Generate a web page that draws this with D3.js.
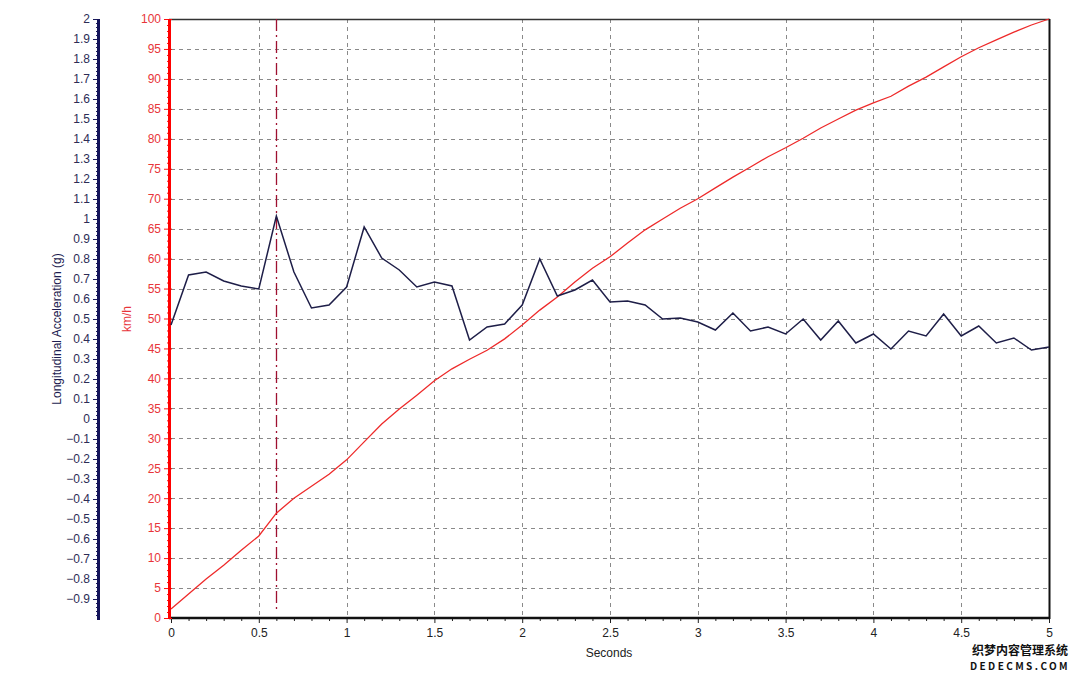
<!DOCTYPE html>
<html><head><meta charset="utf-8">
<script src="https://cdn.jsdelivr.net/npm/d3@7"></script>
<style>body{margin:0;background:#fff}svg{display:block}</style>
</head><body><svg id="c" width="1080" height="676"></svg>
<script>
const times = d3.range(0, 51).map(i => +(i / 10).toFixed(1));
const accelG = [0.47,0.72,0.735,0.69,0.665,0.65,1.015,0.735,0.555,0.57,
  0.66,0.96,0.805,0.745,0.66,0.685,0.665,0.395,0.46,0.475,
  0.57,0.80,0.615,0.645,0.695,0.585,0.59,0.57,0.50,0.505,
  0.485,0.445,0.53,0.44,0.46,0.425,0.50,0.395,0.49,0.38,
  0.425,0.35,0.44,0.415,0.525,0.415,0.465,0.38,0.405,0.345,0.36];
const speedKmh = [1.5,4.0,6.5,8.8,11.3,13.7,17.5,20.0,22.0,24.0,
  26.4,29.4,32.4,34.9,37.2,39.6,41.6,43.2,44.7,46.6,
  48.9,51.4,53.6,56.1,58.4,60.3,62.6,64.8,66.6,68.4,
  70.0,71.8,73.6,75.3,77.0,78.5,80.1,81.8,83.3,84.8,
  86.0,87.1,88.8,90.3,92.0,93.7,95.2,96.5,97.8,99.0,100];
const xTicks = [0,0.5,1,1.5,2,2.5,3,3.5,4,4.5,5];
const accelTicks = d3.range(-9, 21).map(i => +(i / 10).toFixed(1));
const speedTicks = d3.range(0, 101, 5);
const cursorTime = 0.6;

const svg = d3.select('#c');
const font = 'Liberation Sans, Arial, sans-serif';
const x = d3.scaleLinear().domain([0, 5]).range([171, 1049]);
const yA = d3.scaleLinear().domain([-1, 2]).range([619, 19]);
const yS = d3.scaleLinear().domain([0, 100]).range([618, 19]);

// grid
const grid = svg.append('g').attr('stroke', '#8a8a8a').attr('stroke-width', 1).attr('stroke-dasharray', '4,4');
speedTicks.filter(v => v > 0 && v < 100).forEach(v => {
  grid.append('line').attr('x1', 171).attr('x2', 1049).attr('y1', Math.round(yS(v)) + 0.5).attr('y2', Math.round(yS(v)) + 0.5);
});
xTicks.filter(v => v > 0 && v < 5).forEach(v => {
  grid.append('line').attr('y1', 19).attr('y2', 618).attr('x1', Math.round(x(v)) + 0.5).attr('x2', Math.round(x(v)) + 0.5);
});

// frame
svg.append('line').attr('x1', 169).attr('x2', 1050).attr('y1', 19.5).attr('y2', 19.5).attr('stroke', '#333').attr('stroke-width', 1.5);
svg.append('line').attr('x1', 1049.5).attr('x2', 1049.5).attr('y1', 19).attr('y2', 619).attr('stroke', '#111').attr('stroke-width', 2);

// cursor
svg.append('line').attr('x1', Math.round(x(cursorTime)) + 0.5).attr('x2', Math.round(x(cursorTime)) + 0.5)
  .attr('y1', 19).attr('y2', 613).attr('stroke', '#9e1030').attr('stroke-width', 1.3)
  .attr('stroke-dasharray', '12,4,2,4');

// bottom axis
const xAx = svg.append('g').attr('transform', 'translate(0,618)')
  .call(d3.axisBottom(x).tickValues(xTicks).tickSize(5).tickFormat(d3.format('')));
xAx.select('.domain').remove();
xAx.selectAll('line').attr('stroke', '#222');
xAx.selectAll('text').attr('font-family', font).attr('font-size', 12).attr('fill', '#222').attr('dy', '0.9em');
const xMinor = svg.append('g').attr('transform', 'translate(0,618)')
  .call(d3.axisBottom(x).tickValues(d3.range(1, 50).map(i => i / 10).filter(v => Math.abs(v * 2 - Math.round(v * 2)) > 0.01)).tickSize(3).tickFormat(''));
xMinor.select('.domain').remove();
xMinor.selectAll('line').attr('stroke', '#222');
svg.append('line').attr('x1', 169).attr('x2', 1050).attr('y1', 618).attr('y2', 618).attr('stroke', '#111').attr('stroke-width', 2.5);
svg.append('text').attr('x', 609).attr('y', 657).attr('text-anchor', 'middle').attr('font-family', font).attr('font-size', 12).attr('fill', '#222').text('Seconds');

// speed axis (red)
const sAx = svg.append('g').attr('transform', 'translate(169,0)')
  .call(d3.axisLeft(yS).tickValues(speedTicks).tickSize(5).tickPadding(3));
sAx.select('.domain').remove();
sAx.selectAll('line').attr('stroke', '#ff1010').attr('x2', 3).attr('x1', -5);
sAx.selectAll('text').attr('font-family', font).attr('font-size', 12).attr('fill', '#e8353a');
const sMinor = svg.append('g').attr('transform', 'translate(169,0)')
  .call(d3.axisLeft(yS).tickValues(d3.range(1, 100).filter(v => v % 5 !== 0)).tickSize(2).tickFormat(''));
sMinor.select('.domain').remove();
sMinor.selectAll('line').attr('stroke', '#ff1010').attr('x1', -2).attr('x2', 2);
svg.append('line').attr('x1', 169.5).attr('x2', 169.5).attr('y1', 19).attr('y2', 619).attr('stroke', '#ff0000').attr('stroke-width', 3);
svg.append('text').attr('transform', 'translate(131,319) rotate(-90)').attr('text-anchor', 'middle')
  .attr('font-family', font).attr('font-size', 12).attr('fill', '#e8353a').text('km/h');

// accel axis (navy)
const aAx = svg.append('g').attr('transform', 'translate(98,0)')
  .call(d3.axisLeft(yA).tickValues(accelTicks).tickSize(5).tickPadding(3).tickFormat(d3.format('')));
aAx.select('.domain').remove();
aAx.selectAll('line').attr('stroke', '#1a1a5a');
aAx.selectAll('text').attr('font-family', font).attr('font-size', 12).attr('fill', '#2c2c55');
const aMinor = svg.append('g').attr('transform', 'translate(98,0)')
  .call(d3.axisLeft(yA).tickValues(d3.range(-50, 100).map(i => i / 50).filter(v => Math.abs(v * 10 - Math.round(v * 10)) > 0.01)).tickSize(2).tickFormat(''));
aMinor.select('.domain').remove();
aMinor.selectAll('line').attr('stroke', '#1a1a5a');
svg.append('line').attr('x1', 98.5).attr('x2', 98.5).attr('y1', 19).attr('y2', 620).attr('stroke', '#14145a').attr('stroke-width', 3);
svg.append('text').attr('transform', 'translate(61,329) rotate(-90)').attr('text-anchor', 'middle')
  .attr('font-family', font).attr('font-size', 12).attr('fill', '#1c1c50').text('Longitudinal Acceleration (g)');

// data lines
const accelData = times.map((t, i) => [t, accelG[i]]);
const speedData = times.map((t, i) => [t, speedKmh[i]]);
svg.append('path').datum(speedData).attr('fill', 'none').attr('stroke', '#ee2a2a').attr('stroke-width', 1.3)
  .attr('d', d3.line().x(d => x(d[0])).y(d => yS(d[1])));
svg.append('path').datum(accelData).attr('fill', 'none').attr('stroke', '#1e1e48').attr('stroke-width', 1.5)
  .attr('d', d3.line().x(d => x(d[0])).y(d => yA(d[1])));

// watermark
const wm = svg.append('g').attr('font-family', 'Noto Sans CJK SC, sans-serif').attr('font-weight', 'bold')
  .attr('fill', '#111').attr('stroke', '#fff').attr('stroke-width', 2.5).attr('paint-order', 'stroke');
wm.append('text').attr('x', 1020).attr('y', 655).attr('text-anchor', 'middle').attr('font-size', 12).text('织梦内容管理系统');
wm.append('text').attr('x', 1020).attr('y', 670).attr('text-anchor', 'middle').attr('font-size', 10).attr('letter-spacing', 2.4).text('DEDECMS.COM');
</script></body></html>
